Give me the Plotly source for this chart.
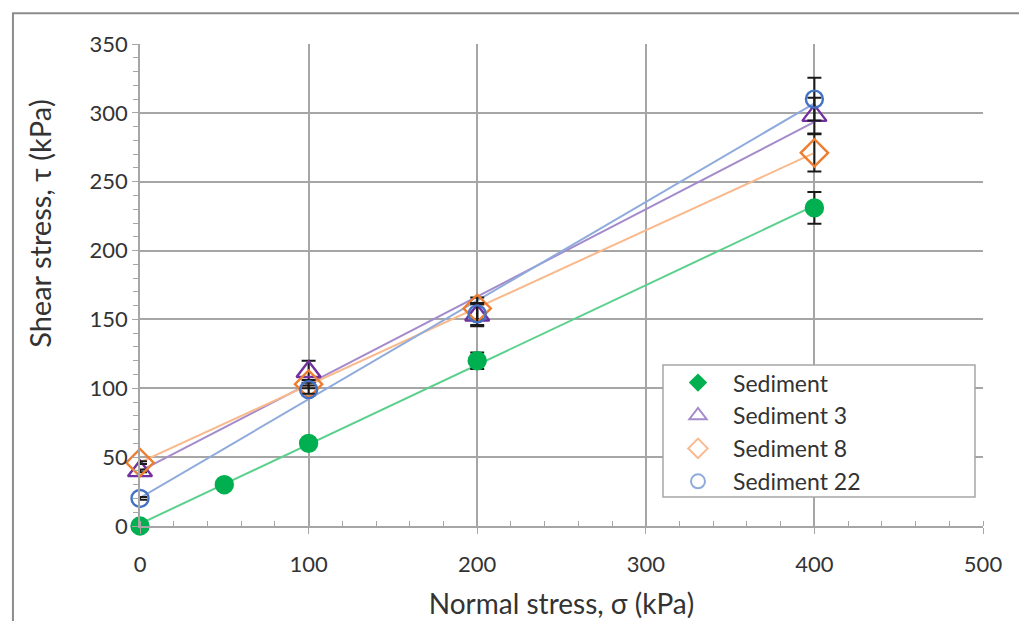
import numpy as np
import plotly.graph_objects as go

# ---- data ----
x_sed = [0, 50, 100, 200, 400]
y_sed = [0, 30, 60, 120, 231]
e_sed = [0, 0, 0, 6, 11.5]

x_s3 = [0, 100, 200, 400]
y_s3 = [40, 112, 153, 298]
e_s3 = [1, 8, 8, 13]

x_s8 = [0, 100, 200, 400]
y_s8 = [46, 103, 158, 271]
e_s8 = [1, 3, 8, 13.5]

x_s22 = [0, 100, 200, 400]
y_s22 = [20, 99, 154, 310]
e_s22 = [1, 3, 8, 15.5]

names = ["Sediment", "Sediment 3", "Sediment 8", "Sediment 22"]

series = [
    (x_sed, y_sed, e_sed, "circle", "#00B050", "#5BD08C", 17, "diamond", "#00B050", 12),
    (x_s3, y_s3, e_s3, "triangle-up-open", "#7030A0", "#A48BCB", 21, "triangle-up-open", "#A48BCB", 15),
    (x_s8, y_s8, e_s8, "diamond-open", "#ED7D31", "#F9B98C", 21, "diamond-open", "#F9B98C", 15),
    (x_s22, y_s22, e_s22, "circle-open", "#4472C4", "#8FAADC", 17, "circle-open", "#8FAADC", 14),
]

fig = go.Figure()

# trend lines (least-squares fits of each series)
for (xs, ys, es, sym, mcol, lcol, msz, lsym, lmcol, lsz) in series:
    k, b = np.polyfit(xs, ys, 1)
    xl = np.array([min(xs), max(xs)], dtype=float)
    fig.add_trace(go.Scatter(x=xl, y=k * xl + b, mode="lines",
                             line=dict(color=lcol, width=2),
                             showlegend=False, hoverinfo="skip", cliponaxis=False))

# markers with error bars
for (xs, ys, es, sym, mcol, lcol, msz, lsym, lmcol, lsz), nm in zip(series, names):
    fig.add_trace(go.Scatter(
        x=xs, y=ys, mode="markers", name=nm, showlegend=False,
        marker=dict(symbol=sym, size=msz, color=mcol,
                    line=dict(color=mcol, width=2.4)),
        error_y=dict(type="data", array=es, visible=True,
                     color="#1a1a1a", thickness=2, width=7),
        cliponaxis=False))

# legend entries
for (xs, ys, es, sym, mcol, lcol, msz, lsym, lmcol, lsz), nm in zip(series, names):
    fig.add_trace(go.Scatter(
        x=[None], y=[None], mode="markers", name=nm,
        marker=dict(symbol=lsym, size=lsz, color=lmcol,
                    line=dict(color=lmcol, width=2))))

font_family = "Lato, 'Open Sans', sans-serif"
txt = "#333333"
fig.update_layout(
    width=1027, height=621,
    margin=dict(l=132, r=52, t=36, b=103),
    paper_bgcolor="white", plot_bgcolor="white",
    font=dict(family=font_family, size=22, color=txt),
    showlegend=True,
    legend=dict(x=0.6204, y=0.342, xanchor="left", yanchor="top",
                bgcolor="rgba(0,0,0,0)", borderwidth=0,
                font=dict(size=23, color=txt),
                itemwidth=60, tracegroupgap=0),
    xaxis=dict(range=[0, 500], dtick=100, tick0=0,
               showgrid=True, gridcolor="#A6A6A6", gridwidth=1.5,
               showline=True, linecolor="#A6A6A6", linewidth=1.5,
               ticks="outside", ticklen=6, tickcolor="#A6A6A6",
               ticklabelstandoff=12,
               tickfont=dict(size=22, color=txt),
               minor=dict(dtick=20, ticks="inside", ticklen=5, tickcolor="#A6A6A6", showgrid=False),
               zeroline=False,
               title=dict(text="Normal stress, σ (kPa)", standoff=18,
                          font=dict(size=28, color=txt))),
    yaxis=dict(range=[0, 350], dtick=50, tick0=0,
               showgrid=True, gridcolor="#A6A6A6", gridwidth=1.5,
               showline=True, linecolor="#A6A6A6", linewidth=1.5,
               ticks="outside", ticklen=6, tickcolor="#A6A6A6",
               tickfont=dict(size=22, color=txt),
               minor=dict(dtick=10, ticks="outside", ticklen=5, tickcolor="#A6A6A6", showgrid=False),
               zeroline=False),
    annotations=[dict(text="Shear stress, τ (kPa)", xref="paper", yref="paper",
                      x=-0.1186, y=0.627, xanchor="center", yanchor="middle",
                      textangle=-90, showarrow=False,
                      font=dict(size=29, color=txt))],
    shapes=[
        dict(type="rect", xref="paper", yref="paper",
             x0=-0.1507, x1=1.0463, y0=-0.25, y1=1.064,
             line=dict(color="#8C8C8C", width=2), layer="below"),
        dict(type="rect", xref="paper", yref="paper",
             x0=0.6204, x1=0.9905, y0=0.060, y1=0.334,
             fillcolor="white", line=dict(color="#A6A6A6", width=1.5),
             layer="above"),
    ],
)

fig.write_html("out.html")
